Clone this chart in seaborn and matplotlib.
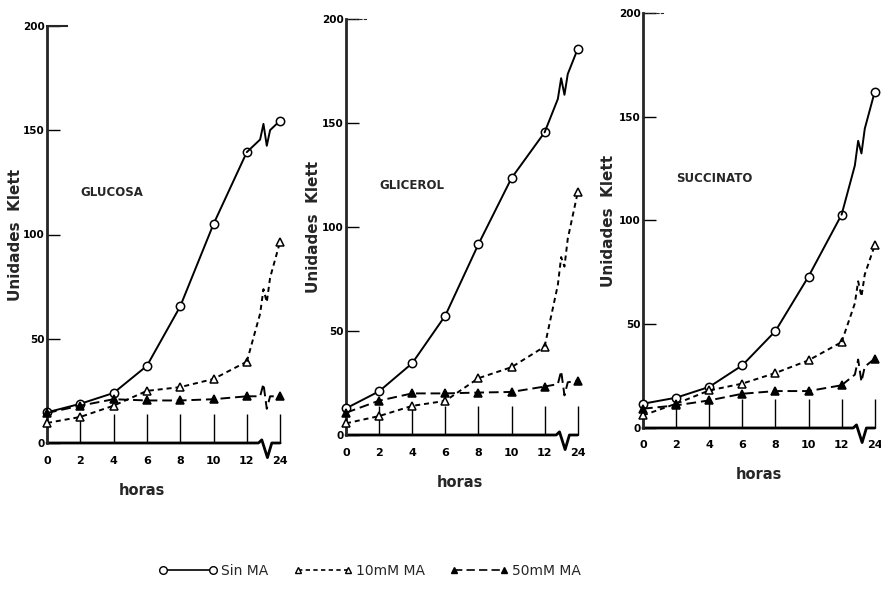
import matplotlib
matplotlib.use("Agg")
import matplotlib.pyplot as plt
from matplotlib.lines import Line2D
import seaborn as sns
import numpy as np
import pandas as pd

# ---------------- data ----------------
horas = [0, 2, 4, 6, 8, 10, 12, 24]
horas_labels = ["0", "2", "4", "6", "8", "10", "12", "24"]
series_names = ["Sin MA", "10mM MA", "50mM MA"]
panel_names = ["GLUCOSA", "GLICEROL", "SUCCINATO"]

glucosa_sin = [14.7, 18.8, 24.0, 37.0, 65.5, 105.0, 139.5, 154.6]
glucosa_10 = [9.6, 12.5, 17.9, 25.0, 26.8, 30.7, 39.0, 96.6]
glucosa_50 = [14.4, 17.9, 21.0, 20.4, 20.4, 21.0, 22.4, 22.4]

glicerol_sin = [12.8, 21.0, 34.5, 57.4, 91.7, 123.5, 145.5, 185.6]
glicerol_10 = [5.6, 9.1, 14.0, 16.4, 27.3, 32.6, 42.5, 116.6]
glicerol_50 = [10.7, 16.5, 20.0, 20.0, 20.4, 20.7, 23.3, 26.2]

succ_sin = [11.7, 14.6, 19.8, 30.2, 46.7, 73.0, 102.8, 162.0]
succ_10 = [6.1, 11.7, 18.1, 21.4, 26.5, 32.6, 41.4, 88.0]
succ_50 = [9.3, 10.9, 13.3, 16.5, 17.8, 17.8, 20.6, 33.4]

yticks = [0, 50, 100, 150, 200]

panel_data = {
    "GLUCOSA": [glucosa_sin, glucosa_10, glucosa_50],
    "GLICEROL": [glicerol_sin, glicerol_10, glicerol_50],
    "SUCCINATO": [succ_sin, succ_10, succ_50],
}

# ---------------- style ----------------
sns.set_style("white")
plt.rcParams["font.family"] = ["DejaVu Sans"]

W, H = 881, 589
fig = plt.figure(figsize=(W / 100, H / 100), dpi=100)

# panel geometry in pixels: left, y of value 0, y of value 200, px per category step
geom = [
    (47, 443, 26, 33.3),
    (346, 435, 19, 33.1),
    (643, 428, 13, 33.1),
]
xlabel_fx = [0.40, 0.48, 0.49]
ylabel_fx = [-0.10, -0.105, -0.114]

styles = [
    dict(marker="o", mfc="white", ms=6, dashes=None),
    dict(marker="^", mfc="white", ms=5.5, dashes=(2.6, 2.0)),
    dict(marker="^", mfc="black", ms=5.5, dashes=(5, 2.5)),
]

pos = np.arange(len(horas))
XMAX = 7.15


def with_break(xs, ys, h=6.0):
    """Insert an N-shaped zig-zag break in the last segment (12 -> 24 h)."""
    x0, x1 = xs[-2], xs[-1]
    y0, y1 = ys[-2], ys[-1]
    f = lambda t: y0 + (y1 - y0) * (t - x0) / (x1 - x0)
    bx = [x0 + 0.40, x0 + 0.50, x0 + 0.60, x0 + 0.70]
    by = [f(bx[0]), f(bx[1]) + h, f(bx[2]) - h, f(bx[3])]
    return list(xs[:-1]) + bx + [x1], list(ys[:-1]) + by + [y1]


for i, name in enumerate(panel_names):
    left, y0px, y200px, step = geom[i]
    width = XMAX * step
    ax = fig.add_axes([left / W, (H - y0px) / H, width / W, (y0px - y200px) / H])
    ax.set_xlim(0, XMAX)
    ax.set_ylim(0, 200)

    for j, vals in enumerate(panel_data[name]):
        st = styles[j]
        df = pd.DataFrame({"pos": pos[:-1], "val": vals[:-1]})
        kw = dict(color="black", lw=1.4, marker=st["marker"], mfc=st["mfc"],
                  mec="black", mew=1.1, ms=st["ms"], clip_on=False, zorder=3)
        if st["dashes"] is not None:
            kw["dashes"] = st["dashes"]
        sns.lineplot(data=df, x="pos", y="val", ax=ax, **kw)
        bx, by = with_break(pos[-2:], vals[-2:])
        ln_kw = dict(color="black", lw=1.4, clip_on=False, zorder=3)
        if st["dashes"] is not None:
            ln_kw["dashes"] = st["dashes"]
        ax.plot(bx, by, **ln_kw)
        ax.plot([pos[-1]], [vals[-1]], linestyle="none", marker=st["marker"],
                mfc=st["mfc"], mec="black", mew=1.1, ms=st["ms"],
                clip_on=False, zorder=4)

    # axes frame
    ax.spines["bottom"].set_visible(False)
    ax.spines["right"].set_visible(False)
    ax.spines["left"].set_linewidth(2.0)
    ax.spines["top"].set_linewidth(1.5)
    ax.spines["top"].set_bounds(0, 0.6)
    if i > 0:
        ax.spines["top"].set_linestyle((0, (2, 2)))
        ax.spines["top"].set_linewidth(0.8)
    # bottom axis line with break
    bxs = [0, pos[-2] + 0.35, pos[-2] + 0.45, pos[-2] + 0.62, pos[-2] + 0.75, pos[-1]]
    bys = [0, 0, 1.5, -7, 0, 0]
    ax.plot(bxs, bys, color="black", lw=2.0, clip_on=False, zorder=2)

    ax.set_xticks(pos)
    ax.set_xticklabels(horas_labels, fontsize=8, fontweight="bold")
    ax.set_yticks(yticks)
    ax.set_yticklabels([str(v) for v in yticks], fontsize=7.5, fontweight="bold")
    ax.tick_params(axis="x", direction="in", length=21, width=1.0, pad=9,
                   bottom=True, colors="black")
    ax.tick_params(axis="y", direction="in", length=9, width=1.0, pad=1.5,
                   left=True, colors="black")

    ax.set_xlabel("horas", fontsize=10.5, fontweight="bold")
    ax.xaxis.set_label_coords(xlabel_fx[i], -0.095)
    ax.set_ylabel("Unidades  Klett", fontsize=11, fontweight="bold")
    ax.yaxis.set_label_coords(ylabel_fx[i], 0.5)

    ax.text(1.0, 120, name, fontsize=8.5, fontweight="bold", ha="left",
            va="center")

# legend
handles = []
for st in styles:
    kw = dict(color="black", lw=1.2, marker=st["marker"], mfc=st["mfc"],
              mec="black", mew=1.0, ms=st["ms"] - 0.5)
    if st["dashes"] is not None:
        kw["dashes"] = st["dashes"]
    handles.append(Line2D([], [], **kw))
fig.legend(handles, series_names, loc="center", bbox_to_anchor=(0.42, 0.03),
           ncol=3, frameon=False, numpoints=2, handlelength=4.2,
           columnspacing=1.8, handletextpad=0.3, fontsize=10)

fig.savefig("out.png", dpi=100)
